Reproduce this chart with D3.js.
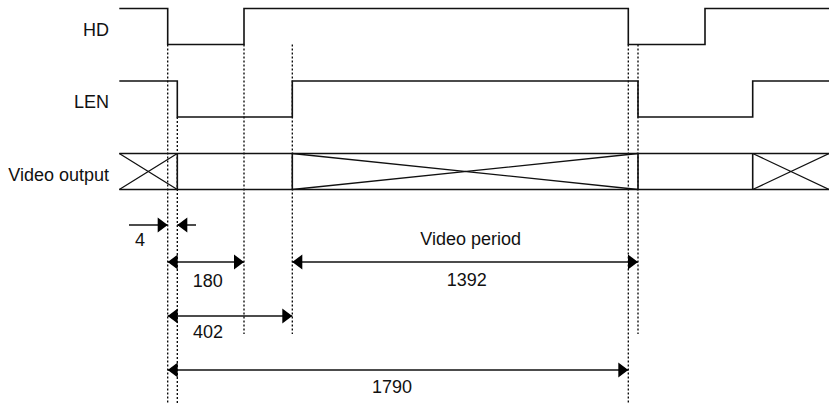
<!DOCTYPE html>
<html>
<head>
<meta charset="utf-8">
<script src="https://cdn.jsdelivr.net/npm/d3@7"></script>
<style>
  body { margin: 0; background: #fff; }
  text { font-family: "Liberation Sans", Arial, sans-serif; font-size: 18px; fill: #111; }
</style>
</head>
<body>
<div id="chart"></div>
<script>
// timing data, in pixel clocks
var signalNames = ["HD", "LEN", "Video output"];
var timeExtent = [-120, 2300];
var hdEdges = [0, 180, 1790, 1970];     // HD starts high
var lenEdges = [4, 402, 1794, 2192];    // LEN starts high
var videoValid = [[-120, 4], [402, 1794], [2192, 2300]];
var guideTimes = [0, 4, 180, 402, 1790, 1794];
var dimLabels = ["4", "180", "402", "1392", "1790"];
var dimFrom = [0, 0, 0, 402, 0];
var dimTo = [4, 180, 402, 1794, 1790];
var captionText = "Video period";

// layout
var svgWidth = 829;
var svgHeight = 403;
var rowHeight = 36;
// diagram is not to scale: polylinear mapping of clock breakpoints
var breakX = [119.3, 167.7, 177.3, 244, 292.3, 628.3, 638, 705, 752.7, 829];
var guideSpan = [[44.5, 403], [117, 403], [44.5, 334], [44.5, 334], [44.5, 403], [44.5, 334]];
var dimY = [225, 262, 316, 262, 370];
var labelDx = [-32.5, 2, -22, 1.5, -6];
var labelDy = [21, 25, 22, 24, 23];
var headLen = 10, headHalf = 7.5;

var svg = d3.select("#chart")
  .append("svg")
  .attr("width", svgWidth)
  .attr("height", svgHeight);

var domain = [timeExtent[0]].concat(
  d3.sort(hdEdges.concat(lenEdges)), [timeExtent[1]]);
var x = d3.scaleLinear().domain(domain).range(breakX);
var rowY = d3.scalePoint().domain(signalNames).range([8.5, 153.5]);

// signal labels
svg.selectAll("text.sig")
  .data(signalNames)
  .enter()
  .append("text")
  .attr("class", "sig")
  .attr("x", 109)
  .attr("y", d => rowY(d) + rowHeight / 2 + 9)
  .attr("text-anchor", "end")
  .text(d => d);

// guide lines (dotted)
svg.selectAll("line.guide")
  .data(guideTimes)
  .enter()
  .append("line")
  .attr("class", "guide")
  .attr("x1", d => x(d))
  .attr("x2", d => x(d))
  .attr("y1", (d, i) => guideSpan[i][0])
  .attr("y2", (d, i) => guideSpan[i][1])
  .attr("stroke", "#000")
  .attr("stroke-width", 1.3)
  .attr("stroke-dasharray", "2,2");

// digital waveforms
function wave(edges, top) {
  var hi = top, lo = top + rowHeight, cur = hi;
  var pts = [[x(timeExtent[0]), cur]];
  edges.forEach(function(e) {
    pts.push([x(e), cur]);
    cur = cur === hi ? lo : hi;
    pts.push([x(e), cur]);
  });
  pts.push([x(timeExtent[1]), cur]);
  return d3.line()(pts);
}

svg.append("path")
  .attr("d", wave(hdEdges, rowY("HD")))
  .attr("fill", "none").attr("stroke", "#111").attr("stroke-width", 1.6);
svg.append("path")
  .attr("d", wave(lenEdges, rowY("LEN")))
  .attr("fill", "none").attr("stroke", "#111").attr("stroke-width", 1.6);

// video bus
var busTop = rowY("Video output");
var busBot = busTop + rowHeight;
var bus = svg.append("g");
[busTop, busBot].forEach(function(y) {
  bus.append("line")
    .attr("x1", x(timeExtent[0])).attr("x2", x(timeExtent[1]))
    .attr("y1", y).attr("y2", y)
    .attr("stroke", "#111").attr("stroke-width", 1.6);
});
bus.selectAll("line.tr")
  .data(lenEdges)
  .enter()
  .append("line")
  .attr("class", "tr")
  .attr("x1", d => x(d)).attr("x2", d => x(d))
  .attr("y1", busTop).attr("y2", busBot)
  .attr("stroke", "#111").attr("stroke-width", 1.6);
videoValid.forEach(function(seg) {
  var a = x(seg[0]), b = x(seg[1]);
  bus.append("path")
    .attr("d", `M${a},${busTop}L${b},${busBot}M${a},${busBot}L${b},${busTop}`)
    .attr("fill", "none").attr("stroke", "#111").attr("stroke-width", 1.3);
});

// dimension arrows
var dims = svg.append("g");
function head(tipX, y, dir) {
  // dir = +1 points right, -1 points left
  return `M${tipX},${y}L${tipX - dir * headLen},${y - headHalf}L${tipX - dir * headLen},${y + headHalf}Z`;
}
dimLabels.forEach(function(lab, i) {
  var a = x(dimFrom[i]), b = x(dimTo[i]), y = dimY[i];
  if (b - a < 2 * headLen + 4) {
    // arrows from outside
    dims.append("line").attr("x1", a - 38.7).attr("x2", a)
      .attr("y1", y).attr("y2", y).attr("stroke", "#111").attr("stroke-width", 1.5);
    dims.append("line").attr("x1", b).attr("x2", b + 18.7)
      .attr("y1", y).attr("y2", y).attr("stroke", "#111").attr("stroke-width", 1.5);
    dims.append("path").attr("d", head(a, y, 1)).attr("fill", "#000");
    dims.append("path").attr("d", head(b, y, -1)).attr("fill", "#000");
  } else {
    dims.append("line").attr("x1", a).attr("x2", b)
      .attr("y1", y).attr("y2", y).attr("stroke", "#111").attr("stroke-width", 1.5);
    dims.append("path").attr("d", head(a, y, -1)).attr("fill", "#000");
    dims.append("path").attr("d", head(b, y, 1)).attr("fill", "#000");
  }
  dims.append("text")
    .attr("x", (a + b) / 2 + labelDx[i])
    .attr("y", y + labelDy[i])
    .attr("text-anchor", "middle")
    .text(lab);
});

// caption above the video period arrow
svg.append("text")
  .attr("x", (x(402) + x(1794)) / 2 + 5.5)
  .attr("y", 245)
  .attr("text-anchor", "middle")
  .text(captionText);
</script>
</body>
</html>
